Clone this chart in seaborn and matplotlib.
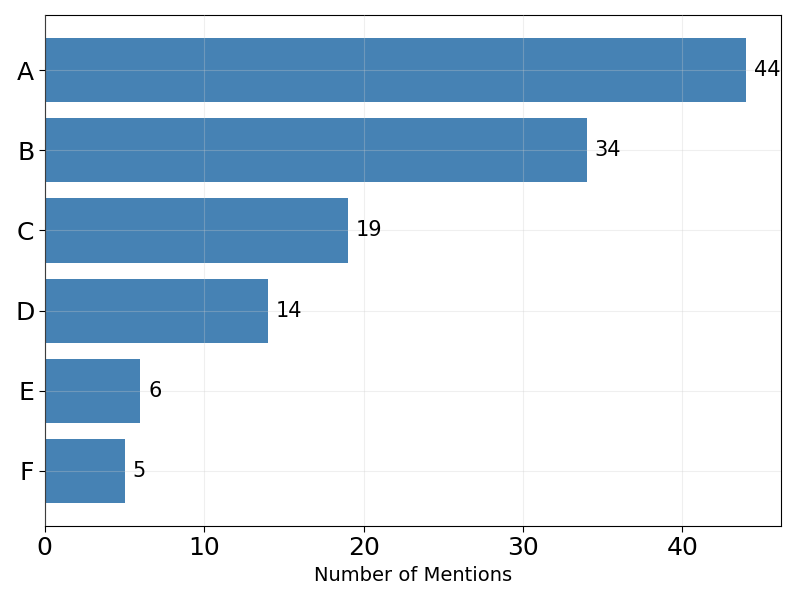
import matplotlib
matplotlib.use('Agg')
import matplotlib.pyplot as plt
import seaborn as sns
import pandas as pd

# Data
categories = ['A', 'B', 'C', 'D', 'E', 'F']
mentions = [44, 34, 19, 14, 6, 5]

df = pd.DataFrame({'category': categories, 'mentions': mentions})

sns.set_style('white')
plt.rcParams['font.family'] = ['DejaVu Sans']
plt.rcParams['text.color'] = 'black'
plt.rcParams['axes.labelcolor'] = 'black'
plt.rcParams['xtick.color'] = 'black'
plt.rcParams['ytick.color'] = 'black'

fig, ax = plt.subplots(figsize=(8, 6), dpi=100)
sns.barplot(data=df, y='category', x='mentions', orient='h',
            color='steelblue', saturation=1, width=0.8, linewidth=0, ax=ax)

# Value labels at the end of each bar
for i, v in enumerate(mentions):
    ax.text(v + 0.5, i, str(v), va='center', ha='left', fontsize=15, color='black')

n = len(categories)
pad = 0.05 * (n - 1 + 0.8)
ax.set_ylim(n - 1 + 0.4 + pad, -0.4 - pad)
ax.set_xlim(0, max(mentions) * 1.05)
ax.set_ylabel('')
ax.set_xlabel('Number of Mentions', fontsize=14)
ax.tick_params(axis='both', labelsize=18, length=4, width=0.8, left=True, bottom=True)
ax.grid(True, alpha=0.3)
ax.set_axisbelow(False)
for s in ax.spines.values():
    s.set_visible(True)
    s.set_color('black')
    s.set_linewidth(0.8)

plt.tight_layout()
plt.savefig('out.png', dpi=100)
